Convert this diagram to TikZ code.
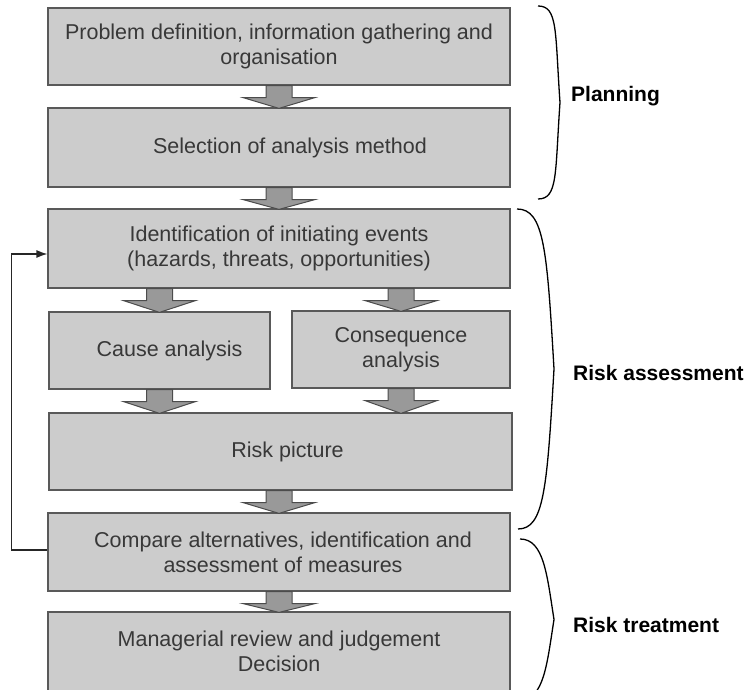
\documentclass[tikz,border=0pt]{standalone}
\usepackage{fontspec}
\setmainfont{Liberation Sans}
\usetikzlibrary{calc,arrows.meta}
\definecolor{boxfill}{gray}{0.80}
\definecolor{boxline}{gray}{0.35}
\definecolor{arrfill}{gray}{0.60}
\definecolor{arrline}{gray}{0.30}
\definecolor{txt}{gray}{0.22}
\tikzset{
  stage/.style={draw=boxline, fill=boxfill, line width=1.2pt, text=txt, align=center,
    inner sep=0pt, minimum width=462pt, font=\fontsize{21.5}{25}\selectfont},
  barr/.style={draw=arrline, fill=arrfill, line width=1pt, line join=miter},
  fb/.style={draw=black!85, line width=1.2pt, -{Latex[length=11pt,width=8pt]}},
  bracel/.style={draw=black, line width=1.3pt},
  phase/.style={anchor=west, font=\fontsize{21}{25}\selectfont\bfseries, text=black, inner sep=0pt}
}
\newcommand{\blockarr}[2]{%
  \path[barr] let \p1=(#1), \p2=(#2) in
    (\x1-13pt,\y1) -- (\x1-13pt,\y1-12pt) -- (\x1-36pt,\y1-12pt) -- (\x1,\y2-1pt)
    -- (\x1+36pt,\y1-12pt) -- (\x1+13pt,\y1-12pt) -- (\x1+13pt,\y1) -- cycle;}
\begin{document}
\begin{tikzpicture}[x=1pt,y=1pt]
\useasboundingbox (0,0) rectangle (748,690);
% boxes
\node[stage, minimum height=77pt] (b1) at (279,643.5) {Problem definition, information gathering and\\organisation};
\node[stage, minimum height=79pt] (b2) at (279,542.5) {\hspace*{22pt}Selection of analysis method};
\node[stage, minimum height=79pt] (b3) at (279,441.5) {Identification of initiating events\\(hazards, threats, opportunities)};
\node[stage, minimum width=221pt, minimum height=77pt] (cause) at (159.5,339.5) {\hspace*{20pt}Cause analysis};
\node[stage, minimum width=218pt, minimum height=77pt] (cons) at (401,340.5) {Consequence\\analysis};
\node[stage, minimum width=463pt, minimum height=77pt] (risk) at (280.5,238.5) {\hspace*{14pt}Risk picture};
\node[stage, minimum height=78pt] (comp) at (279,138) {\hspace*{8pt}Compare alternatives, identification and\\\hspace*{8pt}assessment of measures};
\node[stage, minimum height=79pt] (man) at (279,38.5) {Managerial review and judgement\\Decision};
% block arrows
\blockarr{b1.south}{b2.north}
\blockarr{b2.south}{b3.north}
\blockarr{b3.south -| cause.north}{cause.north}
\blockarr{b3.south -| cons.north}{cons.north}
\blockarr{cause.south}{risk.north}
\blockarr{cons.south}{risk.north}
\blockarr{risk.south -| comp.south}{comp.north}
\blockarr{comp.south}{man.north}
% feedback loop
\coordinate (fbcorner) at ([xshift=-36pt,yshift=2pt]comp.west);
\draw[fb] ([yshift=2pt]comp.west) -- (fbcorner) |- ([yshift=-5.5pt]b3.west);
% braces
\draw[bracel] (538,684) .. controls (558,684) and (555,659) .. (560,587.5)
  .. controls (555,516) and (558,491) .. (538,491);
\draw[bracel] (517,481) .. controls (544,481) and (547,441) .. (554,321)
  .. controls (547,201) and (544,161) .. (518,161);
\draw[bracel] (520,151) .. controls (544,151) and (547,115) .. (554,70.5)
  .. controls (547,26) and (544,-10) .. (520,-10);
% phase labels
\node[phase] (lplan) at (571,594) {Planning};
\node[phase] (lass) at (573,317) {Risk assessment};
\node[phase] (ltreat) at (573,65) {Risk treatment};
\end{tikzpicture}
\end{document}
